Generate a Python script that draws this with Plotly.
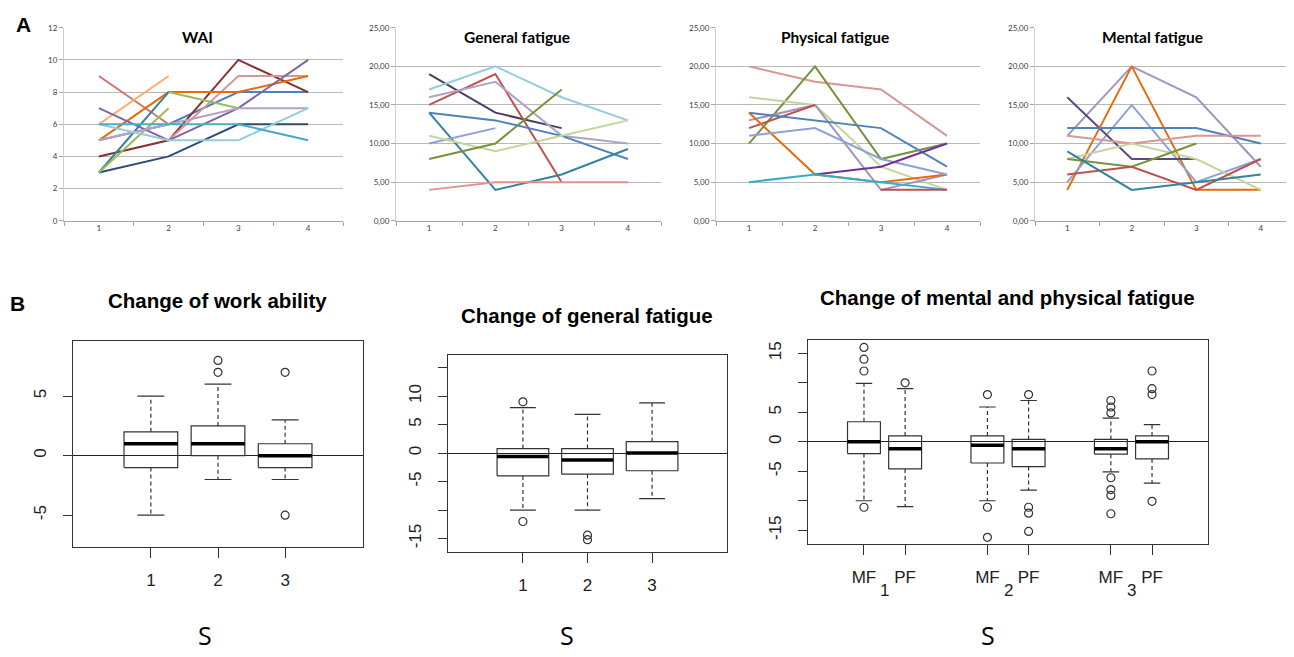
import plotly.graph_objects as go

W, H = 1294, 657
OFF = 8  # default page body margin
FW, FH = W - OFF, H - OFF

# ---------------- Panel A data (values at measurement points 1..4) ----------------
time_points = [1, 2, 3, 4]

wai_series = [
    [3, 4, 6, 6], [5, 6, 8, 8], [4, 5, 10, 8], [9, 6, None, None], [None, 5, 9, 9],
    [6, 9, None, None], [5, 8, 8, 9], [3, 8, None, None], [3, 7, None, None],
    [None, 8, 7, None], [None, 5, 7, 10], [7, 5, None, None], [5, 6, 7, 7],
    [6, 5, 5, 7], [6, 6, 6, 5],
]
wai_colors = ["#2C4D75", "#4F81BD", "#8B2F2C", "#CD7371", "#D99694",
              "#F9AB6B", "#E46C0A", "#31859C", "#9BBB59",
              "#9BBB59", "#8064A2", "#8064A2", "#B3A2C7",
              "#93CDDD", "#4BACC6"]

genfat_series = [
    [19, 14, 12, None], [17, 20, 16, 13], [15, 19, 5, None], [16, 18, 11, 10],
    [14, 13, 11, 8], [14, 4, 6, 9.3], [10, 12, None, None], [11, 9, 11, 13],
    [8, 10, 17, None], [4, 5, 5, 5],
]
genfat_colors = ["#4D3B62", "#93CDDD", "#C0504D", "#B3A2C7",
                 "#4F81BD", "#31859C", "#8EA0D8", "#C3D69B",
                 "#77933C", "#E6908E"]

physfat_series = [
    [20, 18, 17, 11], [10, 20, 8, 10], [16, 15, 7, 4], [13, 15, 4, 6],
    [12, 15, None, None], [14, 13, 12, 7], [14, 6, 5, 6], [11, 12, 8, 6],
    [None, 6, 7, 10], [5, 6, 5, 4], [None, None, 4, 4],
]
physfat_colors = ["#D99694", "#77933C", "#C3D69B", "#A294BE",
                  "#C0504D", "#4F81BD", "#E46C0A", "#8EA0D8",
                  "#7030A0", "#31B0CC", "#C0504D"]

mentfat_series = [
    [11, 20, 16, 7], [4, 20, 4, 4], [5, 15, 5, 8], [16, 8, 8, None],
    [12, 12, 12, 10], [11, 10, 11, 11], [8, 10, 8, 4], [8, 7, 10, None],
    [6, 7, 4, 8], [9, 4, 5, 6],
]
mentfat_colors = ["#A294BE", "#E46C0A", "#8EA0D8", "#5F497A",
                  "#4F81BD", "#D99694", "#C3D69B", "#77933C",
                  "#C0504D", "#31859C"]

# ---------------- Panel B data (boxplot statistics) ----------------
wa_pos = [1, 2, 3]
wa_lo = [-5, -2, -2]
wa_q1 = [-1, 0, -1]
wa_med = [1, 1, 0]
wa_q3 = [2, 2.5, 1]
wa_hi = [5, 6, 3]
wa_out = [[], [7, 8], [7, -5]]
wa_labels = ["1", "2", "3"]

gf_pos = [1, 2, 3]
gf_lo = [-10, -10, -8]
gf_q1 = [-4, -3.7, -3.1]
gf_med = [-0.6, -1.2, 0]
gf_q3 = [0.8, 0.8, 2]
gf_hi = [8, 6.8, 8.8]
gf_out = [[9, -12], [-14.4, -15.2], []]
gf_labels = ["1", "2", "3"]

mp_pos = [1, 2, 4, 5, 7, 8]
mp_lo = [-10, -11, -10, -8.2, -5.1, -7]
mp_q1 = [-2, -4.6, -3.6, -4.2, -2.1, -2.9]
mp_med = [0, -1.2, -0.6, -1.2, -1.2, 0]
mp_q3 = [3.4, 1, 1, 0.4, 0.4, 1]
mp_hi = [9.9, 9, 5.9, 7, 4, 2.9]
mp_out = [[16, 14, 12, -11.1], [10], [8, -11.1, -16.2], [8, -11.1, -12.1, -15.2],
          [7, 5.9, 4.9, -6.1, -8.1, -9.1, -12.2], [12, 9, 8, -10.1]]
mp_labels = ["MF", "PF", "MF", "PF", "MF", "PF"]
mp_groups = ["1", "2", "3"]
mp_group_pos = [1.5, 4.5, 7.5]


def px(x):
    return (x - OFF) / FW


def py(y):
    return 1 - (y - OFF) / FH


def xdom(a, b):
    return [px(a), px(b)]


def ydom(top, bottom):
    return [py(bottom), py(top)]


fig = go.Figure()
layout = dict(width=FW, height=FH, margin=dict(l=0, r=0, t=0, b=0),
              paper_bgcolor="white", plot_bgcolor="white", showlegend=False,
              annotations=[])

# ---------------- Panel A: line charts ----------------
top_panels = [
    ("WAI", wai_series, wai_colors, 12, 2, False, (64, 343), 197),
    ("General fatigue", genfat_series, genfat_colors, 25, 5, True, (396, 661), 517),
    ("Physical fatigue", physfat_series, physfat_colors, 25, 5, True, (716, 980), 835),
    ("Mental fatigue", mentfat_series, mentfat_colors, 25, 5, True, (1035, 1293), 1152),
]
for i, (title, series, colors, ymax, step, comma, (xa, xb), tx) in enumerate(top_panels):
    n = i + 1
    xs = "x" if n == 1 else f"x{n}"
    ys = "y" if n == 1 else f"y{n}"
    for vals, col in zip(series, colors):
        fig.add_trace(go.Scatter(x=time_points, y=vals, mode="lines", xaxis=xs, yaxis=ys,
                                 line=dict(color=col, width=2), connectgaps=False,
                                 hoverinfo="skip"))
    tv = list(range(0, ymax + 1, step))
    tt = [(f"{v:.2f}".replace(".", ",") if comma else str(v)) for v in tv]
    layout[f"xaxis{'' if n == 1 else n}"] = dict(
        domain=xdom(xa, xb), anchor=ys, range=[0.5, 4.5],
        tickvals=time_points, ticktext=[str(t) for t in time_points], ticks="",
        showline=True, linecolor="#A6A6A6", linewidth=1, showgrid=False, zeroline=False,
        tickfont=dict(family="Lato", size=8, color="#404040"),
        minor=dict(tickvals=[0.5, 1.5, 2.5, 3.5, 4.5], ticks="outside", ticklen=4,
                   tickcolor="#A6A6A6", showgrid=False),
        fixedrange=True)
    layout[f"yaxis{'' if n == 1 else n}"] = dict(
        domain=ydom(23, 219), anchor=xs, range=[0, ymax],
        tickvals=tv, ticktext=tt, ticks="outside", ticklen=4, tickcolor="#A6A6A6",
        showline=True, linecolor="#D0D0D0", linewidth=1,
        showgrid=True, gridcolor="#B8B8B8", gridwidth=1, zeroline=False,
        tickfont=dict(family="Lato", size=8, color="#404040"), fixedrange=True)
    layout["annotations"].append(dict(
        text=f"<b>{title}</b>", x=px(tx), y=py(32), xref="paper", yref="paper",
        showarrow=False, xanchor="center", yanchor="middle",
        font=dict(family="Lato", size=15.5, color="black")))

# ---------------- Panel B: boxplots ----------------
LC = "#333333"


def add_boxes(xs, ys, pos, lo, q1, med, q3, hi, outs, w=0.8):
    h = w / 2
    for p, l, a, m, b, u, o in zip(pos, lo, q1, med, q3, hi, outs):
        fig.add_trace(go.Scatter(x=[p - h, p + h, p + h, p - h, p - h], y=[a, a, b, b, a],
                                 mode="lines", line=dict(color=LC, width=1.2),
                                 xaxis=xs, yaxis=ys, hoverinfo="skip"))
        fig.add_trace(go.Scatter(x=[p - h, p + h], y=[m, m], mode="lines",
                                 line=dict(color="black", width=3.5),
                                 xaxis=xs, yaxis=ys, hoverinfo="skip"))
        for e0, e1 in ((b, u), (a, l)):
            fig.add_trace(go.Scatter(x=[p, p], y=[e0, e1], mode="lines",
                                     line=dict(color=LC, width=1.2, dash="4px,3px"),
                                     xaxis=xs, yaxis=ys, hoverinfo="skip"))
            fig.add_trace(go.Scatter(x=[p - w / 4, p + w / 4], y=[e1, e1], mode="lines",
                                     line=dict(color=LC, width=1.2),
                                     xaxis=xs, yaxis=ys, hoverinfo="skip"))
        if o:
            fig.add_trace(go.Scatter(x=[p] * len(o), y=o, mode="markers",
                                     marker=dict(symbol="circle-open", size=8,
                                                 color=LC, line=dict(width=1.2)),
                                     xaxis=xs, yaxis=ys, hoverinfo="skip"))


bottom_panels = [
    (5, (73, 363), (341, 550), [-0.16, 4.16], [-7.64, 9.64], [-5, 0, 5], ["-5", "0", "5"],
     wa_pos, wa_labels, (wa_lo, wa_q1, wa_med, wa_q3, wa_hi, wa_out)),
    (6, (448, 727), (355, 555), [-0.16, 4.16], [-17.28, 17.28],
     [-15, -10, -5, 0, 5, 10, 15], ["-15", "", "-5", "0", "5", "10", ""],
     gf_pos, gf_labels, (gf_lo, gf_q1, gf_med, gf_q3, gf_hi, gf_out)),
    (7, (808, 1208), (340, 547), [-0.36, 9.36], [-17.28, 17.28],
     [-15, -10, -5, 0, 5, 10, 15], ["-15", "", "-5", "0", "5", "", "15"],
     mp_pos, mp_labels, (mp_lo, mp_q1, mp_med, mp_q3, mp_hi, mp_out)),
]
for n, (xa, xb), (yt, yb), xr, yr, ytv, ytt, pos, labels, stats in bottom_panels:
    xs, ys = f"x{n}", f"y{n}"
    add_boxes(xs, ys, pos, *stats)
    layout[f"xaxis{n}"] = dict(
        domain=xdom(xa, xb), anchor=ys, range=xr, tickvals=pos, ticktext=labels,
        ticks="outside", ticklen=10, tickcolor=LC, tickwidth=1.2,
        showline=True, mirror=True, linecolor=LC, linewidth=1.2,
        showgrid=False, zeroline=False, ticklabelstandoff=8,
        tickfont=dict(family="Liberation Sans", size=17, color="#222"), fixedrange=True)
    layout[f"yaxis{n}"] = dict(
        domain=ydom(yt, yb), anchor=xs, range=yr, tickvals=ytv, ticktext=ytt,
        ticks="outside", ticklen=9, tickcolor=LC, tickwidth=1.2, tickangle=-90,
        showline=True, mirror=True, linecolor=LC, linewidth=1.2,
        showgrid=False, zeroline=True, zerolinecolor="#222", zerolinewidth=1.2,
        ticklabelstandoff=10,
        tickfont=dict(family="Liberation Sans", size=17, color="#222"), fixedrange=True)

for gx, gl in zip(mp_group_pos, mp_groups):
    layout["annotations"].append(dict(
        text=gl, x=gx, y=py(595), xref="x7", yref="paper", showarrow=False,
        xanchor="center", yanchor="middle",
        font=dict(family="Liberation Sans", size=17, color="#222")))

b_titles = [("Change of work ability", 217, 300), ("Change of general fatigue", 587, 315),
            ("Change of mental and physical fatigue", 1007, 297)]
for t, cx, cy in b_titles:
    layout["annotations"].append(dict(
        text=f"<b>{t}</b>", x=px(cx), y=py(cy), xref="paper", yref="paper",
        showarrow=False, xanchor="center", yanchor="middle",
        font=dict(family="Liberation Sans", size=20.5, color="black")))

for cx in (205, 567, 988):
    layout["annotations"].append(dict(
        text="S", x=px(cx), y=py(640), xref="paper", yref="paper", showarrow=False,
        xanchor="center", yanchor="middle",
        font=dict(family="Open Sans", size=25, color="black")))

for letter, cx, cy in (("A", 23, 20), ("B", 17, 303)):
    layout["annotations"].append(dict(
        text=f"<b>{letter}</b>", x=px(cx), y=py(cy), xref="paper", yref="paper",
        showarrow=False, xanchor="center", yanchor="middle",
        font=dict(family="Liberation Sans", size=21, color="black")))

fig.update_layout(**layout)
fig.write_html("out.html")
